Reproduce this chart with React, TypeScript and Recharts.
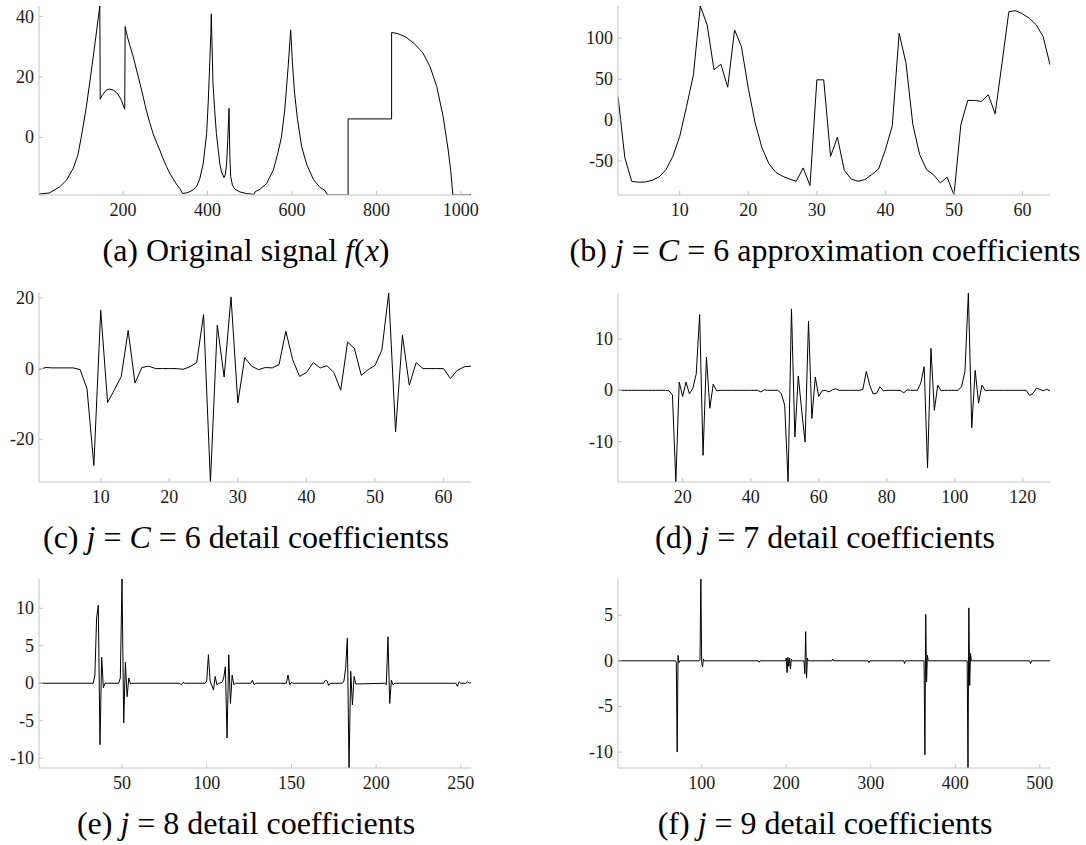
import React from 'react';
import { Line, LineChart, XAxis, YAxis } from 'recharts';

// Wavelet decomposition figure: original signal + coefficients per level.

const FONT = '"Liberation Serif", "Times New Roman", serif';
const FRAME = '#c4c4c4';
const INK = '#1a1a1a';

// (a) original signal f(x), sampled along the curve (jumps repeat x)
const signalX = [
	1, 26, 50, 66, 82, 93, 101, 113, 123, 134,
	145, 146, 150, 160, 168, 178, 188, 196, 204, 205,
	210, 217, 224, 232, 240, 248, 255, 263, 271, 279,
	287, 295, 303, 311, 318, 326, 334, 341, 350, 358,
	366, 374, 382, 390, 398, 402, 405, 408, 409, 413,
	417, 421, 425, 429, 433, 439, 442, 445, 448, 451,
	453, 455, 459, 465, 477, 492, 510, 513, 524, 540,
	556, 567, 575, 583, 591, 597, 601, 606, 613, 623,
	635, 651, 666, 678, 684, 733, 733, 836, 836, 850,
	870, 890, 910, 927, 943, 958, 970, 976, 981, 1022,
	1024,
];
const signalY = [
	-18.8, -18.4, -16.4, -14.2, -10.3, -5.9, 0, 10, 20, 31.5,
	43.5, 12.6, 13.8, 15.6, 16.0, 15.6, 14.3, 12.3, 9.3, 36.7,
	33.5, 30, 26.8, 22.3, 17.9, 13.3, 9, 5, 1.3, -1.6,
	-4.2, -7.1, -9.7, -12, -13.6, -15.4, -16.9, -18.6, -18.4, -18.0,
	-17.4, -16.4, -13.6, -8.6, 1.3, 12.4, 23.4, 34.5, 40.9, 17.9,
	9.1, 1.3, -3.6, -8.6, -11.4, -13.3, -12.5, -9.2, -1, 9.6,
	-6.4, -13, -15.8, -17.2, -18.1, -18.6, -18.9, -18.0, -17.2, -15.3,
	-10.8, -5, 0, 9.1, 23.4, 35.6, 25, 15, 6, -3.1,
	-9, -14, -16.5, -17.6, -19.1, -19.1, 6.1, 6.1, 34.7, 34.4,
	33.2, 31, 28, 23.4, 16.8, 6.9, -4.2, -11, -19.1, -19.1,
	-18.7,
];

// (b) j = 6 approximation coefficients, k = 1..64
const approx6 = [
	28.9, -46, -75, -76, -75.6, -73.6, -69.5, -60.6, -44.3, -20,
	16.7, 55.3, 139.4, 116.3, 61.4, 68.3, 40.2, 110.2, 89.8, 39,
	-3.7, -34, -53.3, -63.8, -68.7, -72, -74.8, -58.5, -80, 49.2,
	49.2, -44.3, -21.1, -61.4, -72, -74.8, -72.8, -66.7, -59.8, -36.2,
	-6.9, 106, 69.5, -5.7, -42.3, -60.6, -66.7, -76.8, -69.9, -91.6,
	-5.7, 24, 24, 22.8, 30.9, 7.7, 69.5, 132.5, 133.7, 129.7,
	124.4, 116.3, 102, 67.5,
];

// (c) j = 6 detail coefficients, k = 1..64
const detail6 = [
	-0.2, 0.3, 0.2, 0.2, 0.2, 0.2, -0.3, -5.7, -27.4, 16.5,
	-9.6, -6, -2.2, 10.8, -4.1, 0.3, 0.7, 0, 0, 0,
	0, -0.2, 0.5, 1.7, 15.3, -32.1, 12.3, -2.4, 20.3, -9.7,
	3.1, 0.7, -0.3, 0.3, 0.2, 1.1, 10.6, 2.5, -2.2, -1.1,
	1.7, 0.2, 0.8, -1.1, -6.1, 7.5, 5.7, -1.9, -0.3, 0.9,
	5.2, 21.4, -17.9, 9.4, -4.7, 1.7, 0, 0, 0, 0,
	-2.8, -0.5, 0.5, 0.7,
];

// (d) j = 7 detail coefficients, k = 1..128
const detail7 = [
	0, 0, 0, 0, 0, 0, 0, 0, 0, 0, 0, 0, 0, 0, 0,
	-0.1, -0.9, -17.9, 1.6, -1.2, 1.6, -0.7, 0.4, 3.2, 14.8, -12.7, 6.5, -3.5, 1.2, -0.1,
	0, 0, 0, 0, 0, 0, 0, 0, 0, 0, 0, 0,
	-0.3, 0.1,
	0, 0, 0, 0,
	-0.6, -2.9, -17.9, 15.9, -9.1, 2.8, -3.9, -10.1, 13.5, -5.5, 2.6, -1.2, -0.1, 0, -0.3, 0.1, 0.3,
	0, 0, 0, 0, 0, 0, 0,
	0.2, 3.7, 1.0, -0.7, -0.6, 0.7, -0.1,
	0, 0, 0, 0, 0,
	-0.5, 0.1,
	0, 0, 0,
	1.4, 4.6, -15.1, 8.2, -3.9, 1.0, -0.1,
	0, 0, 0, 0, 0,
	0.7, 3.7, 19.0, -7.3, 3.9, -2.5, 1.0, -0.1,
	0, 0, 0, 0, 0, 0, 0, 0, 0, 0, 0, 0,
	-1.0, -0.6, 0.4, 0.2, -0.1, 0.2, -0.1,
];

// (e) j = 8 detail coefficients (k, value) — flat stretches are zero
const detail8K = [
	1, 33, 34, 35, 36, 37, 38, 39, 40, 48, 49, 50, 51, 52, 53, 54, 55, 56,
	84, 85, 86, 87, 99, 100, 101, 102, 103, 104, 105, 106, 107, 109, 110, 111, 112, 113, 114, 115, 116, 117,
	126, 127, 128, 129, 147, 148, 149, 150, 151, 169, 170, 171, 172, 173,
	180, 181, 182, 183, 184, 185, 186, 187, 188, 205, 206, 207, 208, 209, 210, 211,
	247, 248, 249, 250, 253, 254, 255, 256,
];
const detail8V = [
	0, 0, 1.1, 8.7, 10.4, -8.2, 3.5, -0.6, 0, 0, 0.7, 13.9, -5.3, 2.8, -1.8, 0.7, -0.1, 0,
	0, -0.2, 0.1, 0, 0, 0.3, 3.8, 0.3, -0.3, -0.9, 0.9, -0.2, 0, 0.1, 0.7, 2.2, -7.3, 3.8, -2.7, 1.1, -0.2, 0,
	0, 0.4, -0.2, 0, 0, 1.1, -0.2, 0.1, 0, 0, 0.4, 0.3, -0.3, 0,
	0, 0.3, 2.0, 6.0, -11.3, 1.6, -2.9, 0.9, -0.1, 0, -0.2, 6.2, -2.7, 0.4, -0.2, 0,
	0, -0.4, 0.2, 0, 0, 0.2, 0, 0.1,
];

// (f) j = 9 detail coefficients (k, value)
const detail9K = [
	1, 69, 70, 71, 72, 73, 74, 97, 98, 99, 100, 101, 102, 103,
	167, 168, 169, 199, 200, 201, 202, 203, 204, 205, 206, 207,
	221, 222, 223, 224, 225, 226, 254, 255, 256, 297, 298, 299, 339, 340, 341,
	363, 364, 365, 366, 367, 368, 414, 415, 416, 417, 418, 419, 488, 489, 490, 512,
];
const detail9V = [
	0, 0, -0.2, -10.0, 0.6, -0.2, 0, 0, 0.1, 8.97, -0.2, -0.66, 0.2, 0,
	0, -0.15, 0, 0, 0.3, -1.3, 0.4, -0.6, 0.3, -0.9, 0.2, 0,
	0, -1.4, 3.2, -1.9, 0.3, 0, 0, 0.2, 0, 0, -0.2, 0, 0, -0.3, 0,
	0, -10.3, 5.1, -2.3, 0.6, 0, 0, -11.75, 5.8, -2.7, 0.8, 0, 0, -0.3, 0, 0,
];

type Pt = { x: number; y: number };

const paired = (xs: number[], ys: number[]): Pt[] => xs.map((x, i) => ({ x, y: ys[i] }));
const indexed = (ys: number[]): Pt[] => ys.map((y, i) => ({ x: i + 1, y }));

const PLOT_W = 432;
const PLOT_H = 189;
const Y_AXIS_W = 40;
const MARGIN_TOP = 6;
const MARGIN_RIGHT = 14;
const X_AXIS_H = 30;
const X_LABEL_GAP = 21;
const Y_LABEL_GAP = 5;
const TICK_LEN = 4;
const TICK_FONT = 18;

const COL_LEFT = [39, 618];
const ROW_TOP = [6, 293, 579];

function BottomTick(props: any) {
	const { x, y, payload } = props;
	const axisY = y - X_LABEL_GAP;
	return (
		<g>
			<line x1={x} x2={x} y1={axisY} y2={axisY - TICK_LEN} stroke={FRAME} />
			<text x={x} y={y} textAnchor="middle" fontFamily={FONT} fontSize={TICK_FONT} fill={INK}>
				{payload.value}
			</text>
		</g>
	);
}

function LeftTick(props: any) {
	const { x, y, payload } = props;
	const axisX = x + Y_LABEL_GAP;
	return (
		<g>
			<line x1={axisX} x2={axisX + TICK_LEN} y1={y} y2={y} stroke={FRAME} />
			<text x={x} y={y + 6} textAnchor="end" fontFamily={FONT} fontSize={TICK_FONT} fill={INK}>
				{payload.value}
			</text>
		</g>
	);
}

function TopTick(props: any) {
	const { x, y } = props;
	return <line x1={x} x2={x} y1={y} y2={y + TICK_LEN} stroke={FRAME} />;
}

function RightTick(props: any) {
	const { x, y } = props;
	return <line x1={x} x2={x - TICK_LEN} y1={y} y2={y} stroke={FRAME} />;
}

interface PanelProps {
	data: Pt[];
	xDomain: [number, number];
	yDomain: [number, number];
	xTicks: number[];
	yTicks: number[];
	left: number;
	top: number;
}

function Panel({ data, xDomain, yDomain, xTicks, yTicks, left, top }: PanelProps) {
	const width = Y_AXIS_W + PLOT_W + MARGIN_RIGHT;
	const height = MARGIN_TOP + PLOT_H + X_AXIS_H;
	return (
		<div style={{ position: 'absolute', left: left - Y_AXIS_W, top: top - MARGIN_TOP }}>
			<LineChart
				width={width}
				height={height}
				data={data}
				margin={{ top: MARGIN_TOP, right: MARGIN_RIGHT, bottom: 0, left: 0 }}
			>
				<XAxis
					xAxisId="bottom"
					dataKey="x"
					type="number"
					domain={xDomain}
					allowDataOverflow
					ticks={xTicks}
					interval={0}
					height={X_AXIS_H}
					tickSize={0}
					tickMargin={X_LABEL_GAP}
					tickLine={false}
					axisLine={{ stroke: FRAME }}
					tick={BottomTick}
				/>
				<XAxis
					xAxisId="top"
					orientation="top"
					dataKey="x"
					type="number"
					domain={xDomain}
					allowDataOverflow
					ticks={xTicks}
					interval={0}
					height={0}
					tickSize={0}
					tickMargin={0}
					tickLine={false}
					axisLine={{ stroke: FRAME }}
					tick={TopTick}
				/>
				<YAxis
					yAxisId="left"
					type="number"
					domain={yDomain}
					allowDataOverflow
					ticks={yTicks}
					interval={0}
					width={Y_AXIS_W}
					tickSize={0}
					tickMargin={Y_LABEL_GAP}
					tickLine={false}
					axisLine={{ stroke: FRAME }}
					tick={LeftTick}
				/>
				<YAxis
					yAxisId="right"
					orientation="right"
					type="number"
					domain={yDomain}
					allowDataOverflow
					ticks={yTicks}
					interval={0}
					width={0}
					tickSize={0}
					tickMargin={0}
					tickLine={false}
					axisLine={{ stroke: FRAME }}
					tick={RightTick}
				/>
				<Line
					xAxisId="top"
					yAxisId="right"
					dataKey="y"
					stroke="none"
					dot={false}
					activeDot={false}
					isAnimationActive={false}
				/>
				<Line
					xAxisId="bottom"
					yAxisId="left"
					dataKey="y"
					type="linear"
					stroke="#000"
					strokeWidth={1}
					dot={false}
					activeDot={false}
					isAnimationActive={false}
				/>
			</LineChart>
		</div>
	);
}

const it = { fontStyle: 'italic' as const };

function Captions() {
	const cx = (col: number) => COL_LEFT[col] + 207;
	const by = (row: number) => ROW_TOP[row] + PLOT_H + 66;
	const common = { textAnchor: 'middle' as const, fontFamily: FONT, fontSize: 32, fill: '#000' };
	return (
		<svg
			width={1086}
			height={845}
			style={{ position: 'absolute', left: 0, top: 0, pointerEvents: 'none' }}
		>
			<text x={cx(0)} y={by(0)} {...common}>
				(a) Original signal <tspan {...it}>f</tspan>(<tspan {...it}>x</tspan>)
			</text>
			<text x={cx(1)} y={by(0)} {...common}>
				(b) <tspan {...it}>j</tspan> = <tspan {...it}>C</tspan> = 6 approximation coefficients
			</text>
			<text x={cx(0)} y={by(1)} {...common}>
				(c) <tspan {...it}>j</tspan> = <tspan {...it}>C</tspan> = 6 detail coefficientss
			</text>
			<text x={cx(1)} y={by(1)} {...common}>
				(d) <tspan {...it}>j</tspan> = 7 detail coefficients
			</text>
			<text x={cx(0)} y={by(2)} {...common}>
				(e) <tspan {...it}>j</tspan> = 8 detail coefficients
			</text>
			<text x={cx(1)} y={by(2)} {...common}>
				(f) <tspan {...it}>j</tspan> = 9 detail coefficients
			</text>
		</svg>
	);
}

export default function App() {
	return (
		<div
			style={{
				position: 'absolute',
				left: 0,
				top: 0,
				width: 1086,
				height: 845,
				background: '#fff',
				overflow: 'hidden',
			}}
		>
			<Panel
				data={paired(signalX, signalY)}
				xDomain={[1, 1024]}
				yDomain={[-19.1, 43.5]}
				xTicks={[200, 400, 600, 800, 1000]}
				yTicks={[0, 20, 40]}
				left={COL_LEFT[0]}
				top={ROW_TOP[0]}
			/>
			<Panel
				data={indexed(approx6)}
				xDomain={[1, 64]}
				yDomain={[-91.6, 139.4]}
				xTicks={[10, 20, 30, 40, 50, 60]}
				yTicks={[-50, 0, 50, 100]}
				left={COL_LEFT[1]}
				top={ROW_TOP[0]}
			/>
			<Panel
				data={indexed(detail6)}
				xDomain={[1, 64]}
				yDomain={[-32.1, 21.4]}
				xTicks={[10, 20, 30, 40, 50, 60]}
				yTicks={[-20, 0, 20]}
				left={COL_LEFT[0]}
				top={ROW_TOP[1]}
			/>
			<Panel
				data={indexed(detail7)}
				xDomain={[1, 128]}
				yDomain={[-17.9, 19.0]}
				xTicks={[20, 40, 60, 80, 100, 120]}
				yTicks={[-10, 0, 10]}
				left={COL_LEFT[1]}
				top={ROW_TOP[1]}
			/>
			<Panel
				data={paired(detail8K, detail8V)}
				xDomain={[1, 256]}
				yDomain={[-11.3, 13.9]}
				xTicks={[50, 100, 150, 200, 250]}
				yTicks={[-10, -5, 0, 5, 10]}
				left={COL_LEFT[0]}
				top={ROW_TOP[2]}
			/>
			<Panel
				data={paired(detail9K, detail9V)}
				xDomain={[1, 512]}
				yDomain={[-11.75, 8.97]}
				xTicks={[100, 200, 300, 400, 500]}
				yTicks={[-10, -5, 0, 5]}
				left={COL_LEFT[1]}
				top={ROW_TOP[2]}
			/>
			<Captions />
		</div>
	);
}
